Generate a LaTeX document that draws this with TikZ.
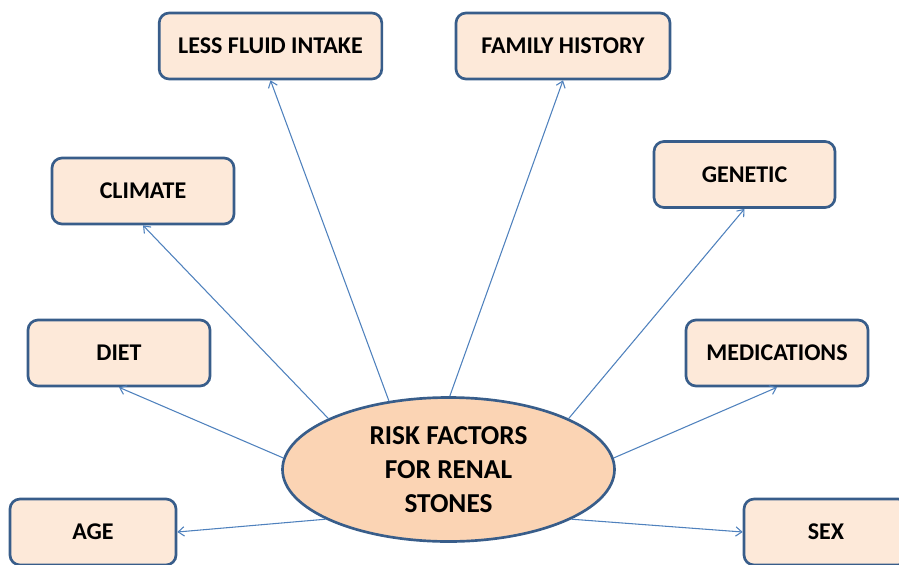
\documentclass[tikz,border=0pt]{standalone}
\usepackage{fontspec}
\setmainfont{Carlito}
\usepackage{xcolor}
\definecolor{cadre}{HTML}{385D8A}
\definecolor{peche}{HTML}{FDE9D9}
\definecolor{pechefonce}{HTML}{FBD4B4}
\definecolor{fil}{HTML}{4F81BD}
\usepackage{tikz}
\usetikzlibrary{shapes.geometric,arrows.meta}

\begin{document}
\begin{tikzpicture}[x=0.75pt,y=-0.75pt,font=\bfseries\fontsize{18pt}{20pt}\selectfont,
  boite/.style={draw=cadre,line width=2pt,fill=peche,rounded corners=7.5pt,
    minimum height=49.5pt,inner sep=0pt},
  centre/.style={ellipse,draw=cadre,line width=2pt,fill=pechefonce,
    minimum width=249pt,minimum height=108pt,inner sep=0pt,align=center,
    font=\bfseries\fontsize{20.5pt}{25.5pt}\selectfont},
  fleche/.style={draw=fil,line width=0.8pt,-{Straight Barb[length=4.5pt,width=7pt]}}]
  \clip (0,0) rectangle (899,564);
  % noeud central
  \node[centre] (hub) at (448.5,469.5) {RISK FACTORS\\FOR RENAL\\STONES};
  % boites : nom, x, y, largeur, texte
  \foreach \nom/\x/\y/\w/\lab in {
     lfi/270.5/46/167pt/LESS FLUID INTAKE,
     fam/563/46/160.5pt/FAMILY HISTORY,
     cli/143/191/136.5pt/CLIMATE,
     gen/744.5/174.5/135.75pt/GENETIC,
     die/119/353/136.5pt/DIET,
     med/777/353/136.5pt/MEDICATIONS,
     age/93/532/124.5pt/AGE,
     sex/826/532/123pt/SEX}
     \node[boite,minimum width=\w] (\nom) at (\x,\y) {\lab};
  % fleches depuis le centre
  \foreach \nom/\ang/\anc in {lfi/131/south,fam/89/south,cli/157/south,gen/23/south,
     die/176/south,med/4/south,age/202/east,sex/338/west}
     \draw[fleche] (hub.\ang) -- (\nom.\anc);
\end{tikzpicture}
\end{document}
